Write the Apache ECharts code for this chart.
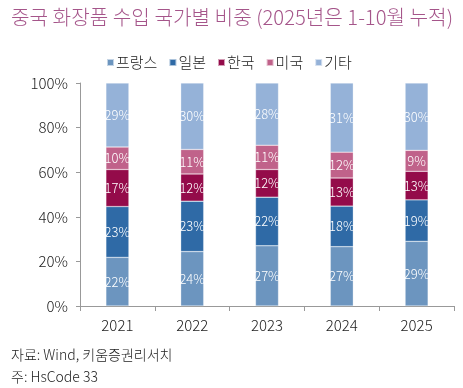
<!DOCTYPE html>
<html><head><meta charset="utf-8">
<script src="https://cdn.jsdelivr.net/npm/echarts@6/dist/echarts.min.js"></script>
<style>html,body{margin:0;padding:0;background:#fff}#c{width:463px;height:388px}</style>
</head><body><div id="c"></div>
<script>
const categories = ['2021','2022','2023','2024','2025'];
const seriesNames = ['프랑스','일본','한국','미국','기타'];
const france = [21.8, 24.4, 27.0, 26.6, 29.0];
const japan  = [22.8, 22.6, 21.8, 18.2, 18.6];
const korea  = [16.6, 12.2, 12.4, 12.6, 12.8];
const usa    = [10.1, 11.0, 10.9, 11.6, 9.4];
const others = [28.7, 29.8, 27.9, 31.0, 30.2];
const yTicks = [0, 20, 40, 60, 80, 100];
const colors = ['#6c95bf', '#2f6aa6', '#940b4a', '#c0628a', '#95b2d8'];
const data = [france, japan, korea, usa, others];
const FONT = '"Noto Sans CJK KR", "Noto Sans", sans-serif';

const chart = echarts.init(document.getElementById('c'), null, {renderer: 'canvas'});
chart.setOption({
  animation: false,
  textStyle: {fontFamily: FONT},
  title: [
    {text: '중국 화장품 수입 국가별 비중 (2025년은 1-10월 누적)', left: 6, top: 2,
     textStyle: {fontFamily: FONT, fontSize: 20.2, fontWeight: 300, color: '#a5558a'}},
    {text: '자료: Wind, 키움증권리서치', left: 6, top: 343,
     textStyle: {fontFamily: FONT, fontSize: 14, fontWeight: 300, color: '#222'}},
    {text: '주: HsCode 33', left: 6, top: 365,
     textStyle: {fontFamily: FONT, fontSize: 14, fontWeight: 300, color: '#222'}}
  ],
  legend: {
    data: seriesNames, top: 50, left: 101, itemWidth: 7, itemHeight: 7, itemGap: 11,
    icon: 'rect', textStyle: {fontFamily: FONT, fontSize: 15, fontWeight: 300, color: '#222', padding: [0,0,0,-3]}
  },
  grid: {left: 80, right: 9, top: 83, bottom: 82, containLabel: false},
  xAxis: {
    type: 'category', data: categories,
    axisLine: {lineStyle: {color: '#999', width: 1}},
    axisTick: {show: true, length: 5, lineStyle: {color: '#999'}},
    axisLabel: {fontSize: 15, fontWeight: 300, color: '#222', margin: 12, fontFamily: FONT}
  },
  yAxis: {
    type: 'value', min: 0, max: 100, interval: 20,
    axisLine: {show: true, lineStyle: {color: '#999'}},
    axisTick: {show: true, length: 4, lineStyle: {color: '#999'}},
    splitLine: {show: false},
    axisLabel: {fontSize: 15, fontWeight: 300, color: '#222', margin: 12, fontFamily: FONT,
      formatter: v => yTicks.includes(v) ? v + '%' : ''}
  },
  series: seriesNames.map((n, i) => ({
    name: n, type: 'bar', stack: 'total', data: data[i], barWidth: 23,
    itemStyle: {color: colors[i], borderColor: 'rgba(255,255,255,0.6)', borderWidth: 0.5},
    label: {show: true, position: 'inside', color: '#fff', fontSize: 13, fontWeight: 300, fontFamily: FONT,
      formatter: p => Math.round(p.value) + '%'}
  }))
});
</script></body></html>
